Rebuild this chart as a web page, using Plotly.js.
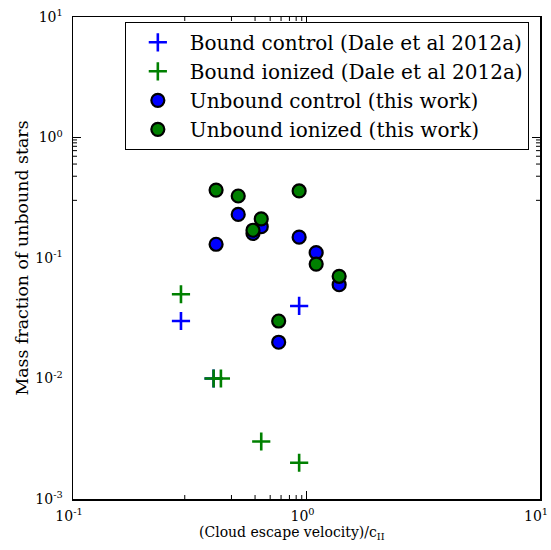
<!DOCTYPE html>
<html>
<head>
<meta charset="utf-8">
<script src="https://cdn.plot.ly/plotly-3.0.1.min.js"></script>
<style>html,body{margin:0;padding:0;background:#fff;}#plot{width:551px;height:550px;}</style>
</head>
<body>
<div id="plot"></div>
<script>
// Bound control (Dale et al 2012a)
var boundControlX = [0.29, 0.93, 0.40];
var boundControlY = [0.030, 0.040, 0.010];
// Bound ionized (Dale et al 2012a)
var boundIonizedX = [0.29, 0.40, 0.43, 0.64, 0.93];
var boundIonizedY = [0.050, 0.010, 0.010, 0.003, 0.002];
// Unbound control (this work)
var unboundControlX = [0.41, 0.51, 0.64, 0.59, 0.93, 1.10, 1.38, 0.76];
var unboundControlY = [0.130, 0.230, 0.182, 0.160, 0.149, 0.111, 0.060, 0.020];
// Unbound ionized (this work)
var unboundIonizedX = [0.41, 0.51, 0.93, 0.64, 0.59, 1.10, 1.38, 0.76];
var unboundIonizedY = [0.366, 0.327, 0.360, 0.211, 0.170, 0.089, 0.0705, 0.030];

var xTickVals = [0.1, 1, 10];
var xTickText = ['10<sup>-1</sup>', '10<sup>0</sup>', '10<sup>1</sup>'];
var yTickVals = [0.001, 0.01, 0.1, 1, 10];
var yTickText = ['10<sup>-3</sup>', '10<sup>-2</sup>', '10<sup>-1</sup>', '10<sup>0</sup>', '10<sup>1</sup>'];
var minorDigits = [2, 3, 4, 5, 6, 7, 8, 9];

function minorTicks(decades) {
  var out = [];
  decades.slice(0, -1).forEach(function (d) {
    minorDigits.forEach(function (m) { out.push(d * m); });
  });
  return out;
}

var FONT = '"DejaVu Serif", serif';
var BLUE = '#0000ff', GREEN = '#008000';
var MAJOR_LEN = 8, MINOR_LEN = 4;

var traces = [
  {x: boundControlX, y: boundControlY, mode: 'markers', type: 'scatter',
   name: 'Bound control (Dale et al 2012a)', legendgroup: 'a',
   marker: {symbol: 'cross-thin', size: 13, color: BLUE, line: {color: BLUE, width: 2.6}}},
  {x: boundIonizedX, y: boundIonizedY, mode: 'markers', type: 'scatter',
   name: 'Bound ionized (Dale et al 2012a)', legendgroup: 'b',
   marker: {symbol: 'cross-thin', size: 13, color: GREEN, line: {color: GREEN, width: 2.6}}},
  {x: unboundControlX, y: unboundControlY, mode: 'markers', type: 'scatter',
   name: 'Unbound control (this work)', legendgroup: 'c',
   marker: {symbol: 'circle', size: 13, color: BLUE, line: {color: '#000', width: 2.2}}},
  {x: unboundIonizedX, y: unboundIonizedY, mode: 'markers', type: 'scatter',
   name: 'Unbound ionized (this work)', legendgroup: 'd',
   marker: {symbol: 'circle', size: 13, color: GREEN, line: {color: '#000', width: 2.2}}}
];

// inward tick marks on all four sides, placed at the axis tick values
var shapes = [];
function addXTicks(vals, len) {
  vals.forEach(function (v) {
    var lx = Math.log10(v);
    [[0, len], [1, -len]].forEach(function (s) {
      shapes.push({type: 'line', xref: 'x', yref: 'paper', ysizemode: 'pixel', yanchor: s[0],
                   x0: lx, x1: lx, y0: 0, y1: s[1], layer: 'above',
                   line: {color: '#000', width: 1}});
    });
  });
}
function addYTicks(vals, len) {
  vals.forEach(function (v) {
    var ly = Math.log10(v);
    [[0, len], [1, -len]].forEach(function (s) {
      shapes.push({type: 'line', yref: 'y', xref: 'paper', xsizemode: 'pixel', xanchor: s[0],
                   y0: ly, y1: ly, x0: 0, x1: s[1], layer: 'above',
                   line: {color: '#000', width: 1}});
    });
  });
}
addXTicks(xTickVals, MAJOR_LEN);
addXTicks(minorTicks(xTickVals), MINOR_LEN);
addYTicks(yTickVals, MAJOR_LEN);
addYTicks(minorTicks(yTickVals), MINOR_LEN);

function axisCommon(decades, texts) {
  return {
    type: 'log', showgrid: false, zeroline: false,
    showline: true, linecolor: '#000', linewidth: 1.5, mirror: true,
    ticks: '', tickmode: 'array', tickvals: decades, ticktext: texts,
    ticklabeloverflow: 'allow',
    tickfont: {family: FONT, size: 14, color: '#000'}
  };
}

var layout = {
  width: 551, height: 550,
  margin: {l: 73, r: 11, t: 17, b: 51},
  paper_bgcolor: '#fff', plot_bgcolor: '#fff',
  font: {family: FONT, color: '#000'},
  showlegend: true,
  legend: {x: 0.111, y: 0.99, xanchor: 'left', yanchor: 'top',
           bordercolor: '#000', borderwidth: 1, bgcolor: '#fff',
           itemwidth: 54, tracegroupgap: 0,
           font: {family: FONT, size: 20, color: '#000'}},
  xaxis: Object.assign(axisCommon(xTickVals, xTickText), {
    range: [-1, 1], ticklabelshift: -4, ticklabelstandoff: 4
  }),
  yaxis: Object.assign(axisCommon(yTickVals, yTickText), {
    range: [-3, 1], ticklabelstandoff: 6,
    title: {text: 'Mass fraction of unbound stars', font: {family: FONT, size: 17.4}, standoff: 2}
  }),
  shapes: shapes,
  annotations: [{
    text: '(Cloud escape velocity)/c<sub>II</sub>',
    xref: 'paper', yref: 'paper', x: 0.468, y: -0.0705,
    xanchor: 'center', yanchor: 'middle', showarrow: false,
    font: {family: FONT, size: 14, color: '#000'}
  }]
};

Plotly.newPlot('plot', traces, layout, {displayModeBar: false, staticPlot: true});
</script>
</body>
</html>
